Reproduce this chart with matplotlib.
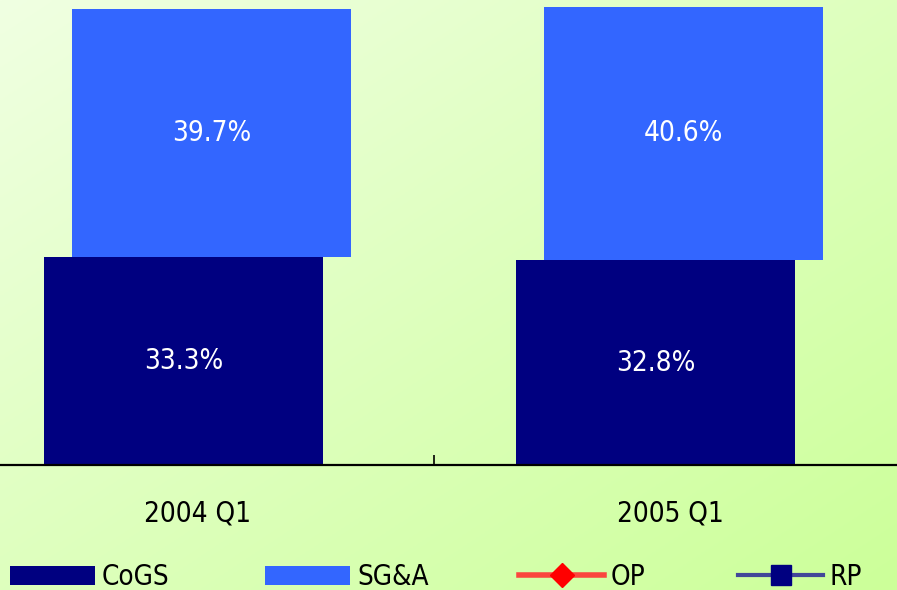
import numpy as np
import matplotlib
matplotlib.use('Agg')
import matplotlib.pyplot as plt
from matplotlib import font_manager
from matplotlib.lines import Line2D
from matplotlib.patches import Patch

# pick a narrow font if one is installed
narrow = None
for f in font_manager.fontManager.ttflist:
    if f.name == 'Liberation Sans Narrow' and f.weight in (400, 'normal') and f.style == 'normal':
        narrow = f.name
        break
if narrow is None:
    for f in font_manager.fontManager.ttflist:
        if 'condensed' in str(f.stretch).lower() or 'Condensed' in f.fname or 'Narrow' in f.fname:
            if 'Bold' not in f.fname and 'Oblique' not in f.fname and 'Italic' not in f.fname:
                narrow = f.fname
                break

if narrow is not None and narrow.endswith(('.ttf', '.otf')):
    font_manager.fontManager.addfont(narrow)
    narrow = font_manager.FontProperties(fname=narrow).get_name()
    plt.rcParams['font.stretch'] = 'condensed'
plt.rcParams['font.family'] = [narrow or 'Liberation Sans', 'DejaVu Sans']
fs = 20 if narrow else 19

# data
categories = ['2004 Q1', '2005 Q1']
cogs = [33.3, 32.8]
sga = [39.7, 40.6]
legend_names = ['CoGS', 'SG&A', 'OP', 'RP']

navy = '#000080'
blue = '#3366FF'

fig = plt.figure(figsize=(8.97, 5.90), dpi=100)

# gradient background
bg = fig.add_axes([0, 0, 1, 1], zorder=-10)
gx, gy = np.meshgrid(np.linspace(0, 1, 200), np.linspace(0, 1, 200))
t = np.clip((gx + gy) / 2, 0, 1)
c0 = np.array([240, 255, 226]) / 255
c1 = np.array([204, 255, 153]) / 255
img = c0[None, None, :] * (1 - t[..., None]) + c1[None, None, :] * t[..., None]
bg.imshow(img, aspect='auto', extent=[0, 1, 0, 1], origin='upper')
bg.axis('off')

ax = fig.add_axes([0, 125 / 590, 1, 465 / 590])
ax.patch.set_alpha(0)
x = np.arange(len(categories))
w = 0.59
ax.bar(x - 0.031, cogs, w, color=navy, zorder=2)
ax.bar(x + 0.029, sga, w, bottom=cogs, color=blue, zorder=1)

for i in range(len(categories)):
    ax.text(x[i] - 0.031, cogs[i] / 2, f'{cogs[i]:.1f}%', ha='center', va='center',
            color='white', fontsize=fs)
    ax.text(x[i] + 0.029, cogs[i] + sga[i] / 2, f'{sga[i]:.1f}%', ha='center', va='center',
            color='white', fontsize=fs)

ax.set_xlim(-0.4195, 1.481)
ax.set_ylim(0, 74.46)
for s in ['top', 'right', 'left']:
    ax.spines[s].set_visible(False)
ax.spines['bottom'].set_linewidth(1.6)
ax.set_yticks([])
ax.set_xticks(x)
ax.set_xticklabels(categories, fontsize=fs)
ax.tick_params(axis='x', which='major', length=0, pad=25)
ax.set_xticks([0.5], minor=True)
ax.tick_params(axis='x', which='minor', direction='in', length=7, width=1.2)

handles = [
    Patch(facecolor=navy),
    Patch(facecolor=blue),
    Line2D([], [], color=(1, 0.2, 0.2, 0.9), lw=4, marker='D', markersize=12,
           markerfacecolor='red', markeredgecolor='red'),
    Line2D([], [], color=(0.2, 0.2, 0.6, 0.9), lw=3, marker='s', markersize=15,
           markerfacecolor=navy, markeredgecolor=navy),
]
# one legend per entry so each starts where it does in the original
starts = [10, 265, 519, 738]
for h, name, x0 in zip(handles, legend_names, starts):
    leg = fig.legend([h], [name], loc='center left', bbox_to_anchor=(x0 / 897, 13 / 590),
                     frameon=False, fontsize=fs, handlelength=85 / (fs * 100 / 72),
                     handleheight=0.7, handletextpad=0.25, borderpad=0, borderaxespad=0)

fig.savefig('out.png', dpi=100)
